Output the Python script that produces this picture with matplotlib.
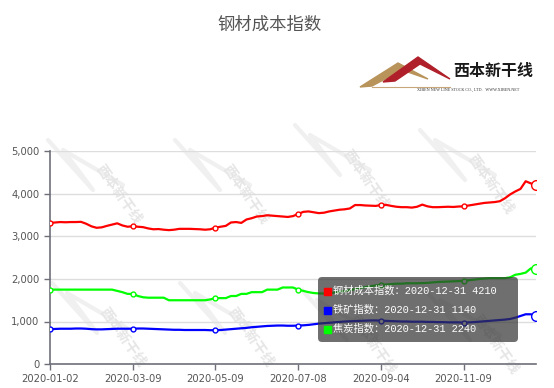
import matplotlib
matplotlib.use("Agg")
import matplotlib.pyplot as plt
from matplotlib.patches import FancyBboxPatch, Polygon, Rectangle
from matplotlib.ticker import StrMethodFormatter
import numpy as np

plt.rcParams["font.family"] = ["DejaVu Sans", "Noto Sans CJK SC"]

# series names and the date shown in the tooltip
names = ["钢材成本指数", "铁矿指数", "焦炭指数"]
colors = ["#ff0000", "#0000ff", "#00ff00"]
last_date = "2020-12-31"

# x-axis labels (one every 16 samples)
x_labels = ["2020-01-02", "2020-03-09", "2020-05-09", "2020-07-08", "2020-09-04", "2020-11-09"]

steel = [3320, 3330, 3340, 3335, 3340, 3340, 3345, 3300, 3240, 3205,
         3215, 3250, 3280, 3310, 3260, 3230, 3240, 3230, 3220, 3190,
         3170, 3175, 3160, 3150, 3160, 3180, 3180, 3180, 3175, 3170,
         3160, 3170, 3210, 3230, 3250, 3330, 3340, 3320, 3400, 3430,
         3470, 3480, 3500, 3490, 3480, 3470, 3460, 3480, 3530, 3580,
         3590, 3570, 3550, 3560, 3590, 3610, 3630, 3640, 3660, 3740,
         3740, 3730, 3725, 3720, 3740, 3745, 3720, 3700, 3690, 3690,
         3680, 3700, 3750, 3710, 3690, 3690, 3695, 3700, 3695, 3705,
         3710, 3730, 3750, 3770, 3790, 3800, 3810, 3830, 3900, 3990,
         4060, 4120, 4300, 4250, 4210]
ore = [820, 825, 830, 830, 830, 835, 835, 830, 820, 815,
       815, 820, 825, 830, 830, 830, 830, 835, 835, 830,
       825, 820, 815, 810, 805, 805, 800, 800, 800, 800,
       800, 795, 795, 800, 810, 820, 830, 840, 850, 865,
       875, 885, 895, 900, 905, 905, 900, 900, 905, 910,
       920, 935, 950, 960, 970, 980, 990, 1000, 1005, 1010,
       1015, 1020, 1025, 1025, 1020, 1015, 1010, 1005, 1000, 1000,
       995, 995, 995, 990, 990, 985, 985, 980, 980, 980,
       975, 980, 985, 995, 1005, 1015, 1025, 1035, 1045, 1060,
       1090, 1130, 1170, 1170, 1140]
coke = [1750, 1750, 1750, 1750, 1750, 1750, 1750, 1750, 1750, 1750,
        1750, 1750, 1750, 1720, 1690, 1650, 1650, 1600, 1570, 1560,
        1560, 1560, 1560, 1500, 1500, 1500, 1500, 1500, 1500, 1500,
        1500, 1520, 1550, 1550, 1550, 1600, 1600, 1650, 1650, 1690,
        1690, 1690, 1750, 1750, 1750, 1800, 1800, 1800, 1750, 1720,
        1690, 1670, 1660, 1660, 1670, 1680, 1700, 1720, 1740, 1760,
        1790, 1810, 1830, 1850, 1860, 1870, 1880, 1890, 1890, 1900,
        1900, 1900, 1905, 1910, 1920, 1930, 1935, 1940, 1945, 1950,
        1955, 1970, 1985, 2000, 2010, 2020, 2020, 2020, 2020, 2040,
        2100, 2120, 2150, 2250, 2240]

series = [steel, ore, coke]
step = 16

W, H = 554, 388
fig = plt.figure(figsize=(W / 100, H / 100), dpi=100)

# background overlay in pixel coordinates (watermarks)
bg = fig.add_axes([0, 0, 1, 1], zorder=0)
bg.set_xlim(0, W); bg.set_ylim(H, 0); bg.axis("off")
for (wx, wy) in [(118, 195), (245, 195), (365, 180), (490, 185),
                 (122, 338), (250, 338), (372, 345), (495, 345)]:
    bg.text(wx, wy, "西本新干线", rotation=-55, fontsize=10, color="#e6e6e6",
            ha="center", va="center", family=["Noto Sans CJK SC"], fontweight="bold")
    bg.plot([wx - 70, wx - 25, wx - 55, wx + 5], [wy - 55, wy - 5, wy - 45, wy - 10],
            color="#f0f0f0", lw=3, solid_capstyle="round")

ax = fig.add_axes([50 / W, 24 / H, 486 / W, 212.5 / H], zorder=1)
ax.patch.set_alpha(0)
x = np.arange(len(steel))
for vals, c in zip(series, colors):
    ax.plot(x, vals, color=c, lw=1.6, zorder=3)
    ax.plot(x[:-1:step], vals[:-1:step], ls="none", marker="o", ms=3.5,
            mfc="white", mec=c, mew=1, zorder=4)
    ax.plot(x[-1], vals[-1], marker="o", ms=7, mfc="white", mec=c, mew=1, zorder=4)

ax.set_xlim(0, len(steel) - 1)
ax.set_ylim(0, 5000)
ax.set_yticks([0, 1000, 2000, 3000, 4000, 5000])
ax.yaxis.set_major_formatter(StrMethodFormatter("{x:,.0f}"))
ax.set_xticks(x[::step][:len(x_labels)])
ax.set_xticklabels(x_labels)
ax.grid(axis="y", color="#dddddd", lw=1)
ax.set_axisbelow(True)
for s in ["top", "right"]:
    ax.spines[s].set_visible(False)
for s in ["left", "bottom"]:
    ax.spines[s].set_color("#6e7079")
    ax.spines[s].set_linewidth(1.2)
ax.tick_params(axis="both", colors="#6e7079", labelcolor="#555555", labelsize=7.2,
               length=4, width=1)
ax.tick_params(axis="x", pad=3)

# title
fig.text(270 / W, 1 - 25 / H, "钢材成本指数", fontsize=12.5, color="#555555",
         ha="center", va="center", family=["Noto Sans CJK SC"])

# front overlay: logo and tooltip
fr = fig.add_axes([0, 0, 1, 1], zorder=2)
fr.set_xlim(0, W); fr.set_ylim(H, 0); fr.axis("off")
fr.add_patch(Polygon([(360, 87), (398, 63), (428, 79), (402, 70), (372, 86)],
                     closed=True, color="#b8935a"))
fr.add_patch(Polygon([(383, 82), (418, 57), (450, 79), (420, 64), (395, 81)],
                     closed=True, color="#b0202a"))
fr.plot([372, 450], [87, 87], color="#c9a57a", lw=0.8)
fr.text(493, 71, "西本新干线", fontsize=11.5, fontweight="bold", color="#1a1a1a",
        ha="center", va="center", family=["Noto Sans CJK SC"])
fr.text(468, 90, "XIBEN NEW LINE STOCK CO., LTD.   WWW.XIBEN.NET", fontsize=3,
        color="#333333", ha="center", va="center", family=["Liberation Serif"])

fr.add_patch(FancyBboxPatch((318, 277), 200, 65, boxstyle="round,pad=0,rounding_size=4",
                            facecolor="#323232", edgecolor="none", alpha=0.7))
for i, (n, vals, c) in enumerate(zip(names, series, colors)):
    ty = 291 + i * 19
    fr.add_patch(Rectangle((324, ty - 3.5), 7, 7, color=c))
    fr.text(333, ty, f"{n}：{last_date} {vals[-1]}", fontsize=7.4, color="white",
            ha="left", va="center", family=["Liberation Mono", "Noto Sans CJK SC"])

fig.savefig("out.png", dpi=100)
